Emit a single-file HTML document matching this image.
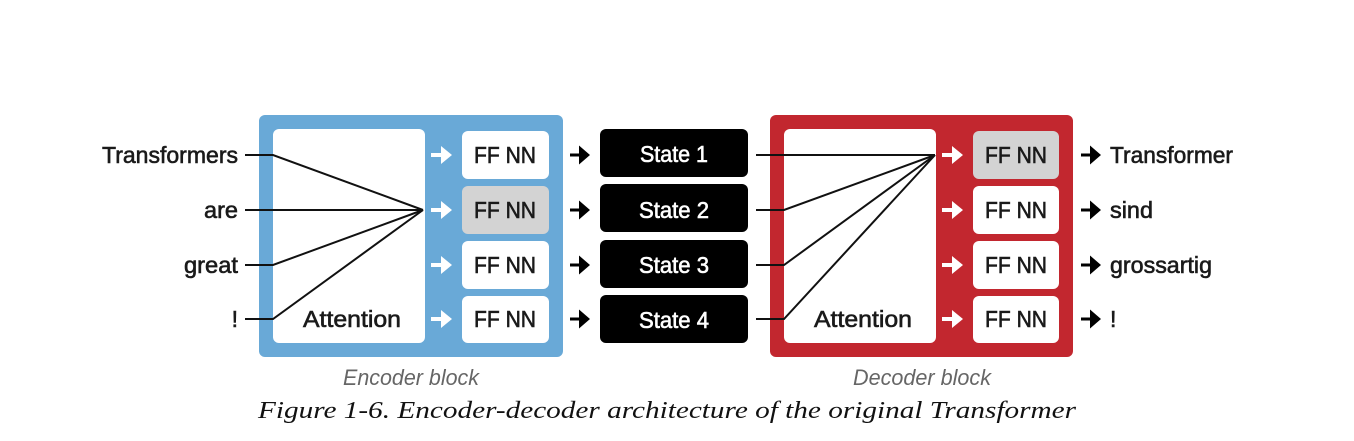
<!DOCTYPE html>
<html><head><style>
html,body{margin:0;padding:0;background:#fff;}
svg text{font-family:"Liberation Sans Narrow","Liberation Sans",sans-serif;}
.dk{stroke:#1a1a1a;stroke-width:0.6;}
.wt{stroke:#fff;stroke-width:0.6;}
</style></head><body>
<svg width="1354" height="436" viewBox="0 0 1354 436" xmlns="http://www.w3.org/2000/svg">
<defs>
<g id="wa"><path d="M-12,-2 h10 v-7 l11,9 l-11,9 v-7 h-10z" fill="#fff"/></g>
<g id="ba"><path d="M-11,-1.5 h9 v-8 l11,9.5 l-11,9.5 v-8 h-9z" fill="#000"/></g>
</defs>
<!-- Encoder -->
<rect x="259" y="115" width="304" height="242" rx="6" fill="#69a9d7"/>
<rect x="273" y="129" width="152" height="214" rx="6" fill="#fff"/>
<g font-size="23" fill="#1a1a1a" text-anchor="middle" class="dk">
<rect x="462" y="131" width="87" height="48" rx="6" fill="#fff" stroke="none"/>
<rect x="462" y="186" width="87" height="48" rx="6" fill="#d3d3d3" stroke="none"/>
<rect x="462" y="241" width="87" height="48" rx="6" fill="#fff" stroke="none"/>
<rect x="462" y="296" width="87" height="47" rx="6" fill="#fff" stroke="none"/>
<text x="505" y="163" textLength="62" lengthAdjust="spacingAndGlyphs">FF NN</text>
<text x="505" y="218" textLength="62" lengthAdjust="spacingAndGlyphs">FF NN</text>
<text x="505" y="273" textLength="62" lengthAdjust="spacingAndGlyphs">FF NN</text>
<text x="505" y="327" textLength="62" lengthAdjust="spacingAndGlyphs">FF NN</text>
<text x="352" y="327" textLength="98" lengthAdjust="spacingAndGlyphs">Attention</text>
</g>
<g stroke="#111" stroke-width="2" fill="none">
<polyline points="245,155 273,155 423,210"/>
<polyline points="245,210 423,210"/>
<polyline points="245,265 273,265 423,210"/>
<polyline points="245,319 273,319 423,210"/>
</g>
<use href="#wa" x="443" y="155"/><use href="#wa" x="443" y="210"/><use href="#wa" x="443" y="265"/><use href="#wa" x="443" y="319"/>
<g font-size="23" fill="#1a1a1a" text-anchor="end" class="dk">
<text x="238" y="163" textLength="136" lengthAdjust="spacingAndGlyphs">Transformers</text>
<text x="238" y="218" textLength="34" lengthAdjust="spacingAndGlyphs">are</text>
<text x="238" y="273" textLength="54" lengthAdjust="spacingAndGlyphs">great</text>
<text x="238" y="327">!</text>
</g>
<!-- States -->
<use href="#ba" x="581" y="155"/><use href="#ba" x="581" y="210"/><use href="#ba" x="581" y="265"/><use href="#ba" x="581" y="319"/>
<g fill="#000">
<rect x="600" y="129" width="148" height="48" rx="6"/>
<rect x="600" y="184" width="148" height="48" rx="6"/>
<rect x="600" y="240" width="148" height="48" rx="6"/>
<rect x="600" y="295" width="148" height="48" rx="6"/>
</g>
<g font-size="23" fill="#fff" text-anchor="middle" class="wt">
<text x="674" y="162" textLength="68" lengthAdjust="spacingAndGlyphs">State 1</text>
<text x="674" y="218" textLength="70" lengthAdjust="spacingAndGlyphs">State 2</text>
<text x="674" y="273" textLength="70" lengthAdjust="spacingAndGlyphs">State 3</text>
<text x="674" y="328" textLength="70" lengthAdjust="spacingAndGlyphs">State 4</text>
</g>
<!-- Decoder -->
<rect x="770" y="115" width="303" height="242" rx="6" fill="#c2272f"/>
<rect x="784" y="129" width="152" height="214" rx="6" fill="#fff"/>
<g font-size="23" fill="#1a1a1a" text-anchor="middle" class="dk">
<rect x="973" y="131" width="86" height="48" rx="6" fill="#d3d3d3" stroke="none"/>
<rect x="973" y="186" width="86" height="48" rx="6" fill="#fff" stroke="none"/>
<rect x="973" y="241" width="86" height="48" rx="6" fill="#fff" stroke="none"/>
<rect x="973" y="296" width="86" height="47" rx="6" fill="#fff" stroke="none"/>
<text x="1016" y="163" textLength="62" lengthAdjust="spacingAndGlyphs">FF NN</text>
<text x="1016" y="218" textLength="62" lengthAdjust="spacingAndGlyphs">FF NN</text>
<text x="1016" y="273" textLength="62" lengthAdjust="spacingAndGlyphs">FF NN</text>
<text x="1016" y="327" textLength="62" lengthAdjust="spacingAndGlyphs">FF NN</text>
<text x="863" y="327" textLength="98" lengthAdjust="spacingAndGlyphs">Attention</text>
</g>
<g stroke="#111" stroke-width="2" fill="none">
<polyline points="756,155 935,155"/>
<polyline points="756,210 784,210 935,155"/>
<polyline points="756,265 784,265 935,155"/>
<polyline points="756,319 784,319 935,155"/>
</g>
<use href="#wa" x="954" y="155"/><use href="#wa" x="954" y="210"/><use href="#wa" x="954" y="265"/><use href="#wa" x="954" y="319"/>
<use href="#ba" x="1092" y="155"/><use href="#ba" x="1092" y="210"/><use href="#ba" x="1092" y="265"/><use href="#ba" x="1092" y="319"/>
<g font-size="23" fill="#1a1a1a" class="dk">
<text x="1110" y="163" textLength="123" lengthAdjust="spacingAndGlyphs">Transformer</text>
<text x="1110" y="218" textLength="43" lengthAdjust="spacingAndGlyphs">sind</text>
<text x="1110" y="273" textLength="102" lengthAdjust="spacingAndGlyphs">grossartig</text>
<text x="1110" y="327">!</text>
</g>
<g font-size="22" fill="#666" font-style="italic" text-anchor="middle">
<text x="411" y="385" textLength="136" lengthAdjust="spacingAndGlyphs">Encoder block</text>
<text x="922" y="385" textLength="138" lengthAdjust="spacingAndGlyphs">Decoder block</text>
</g>
<text x="667" y="418" text-anchor="middle" font-size="24" font-style="italic" fill="#111" style="font-family:'Liberation Serif',serif" textLength="818" lengthAdjust="spacingAndGlyphs">Figure 1-6. Encoder-decoder architecture of the original Transformer</text>
</svg>
</body></html>
